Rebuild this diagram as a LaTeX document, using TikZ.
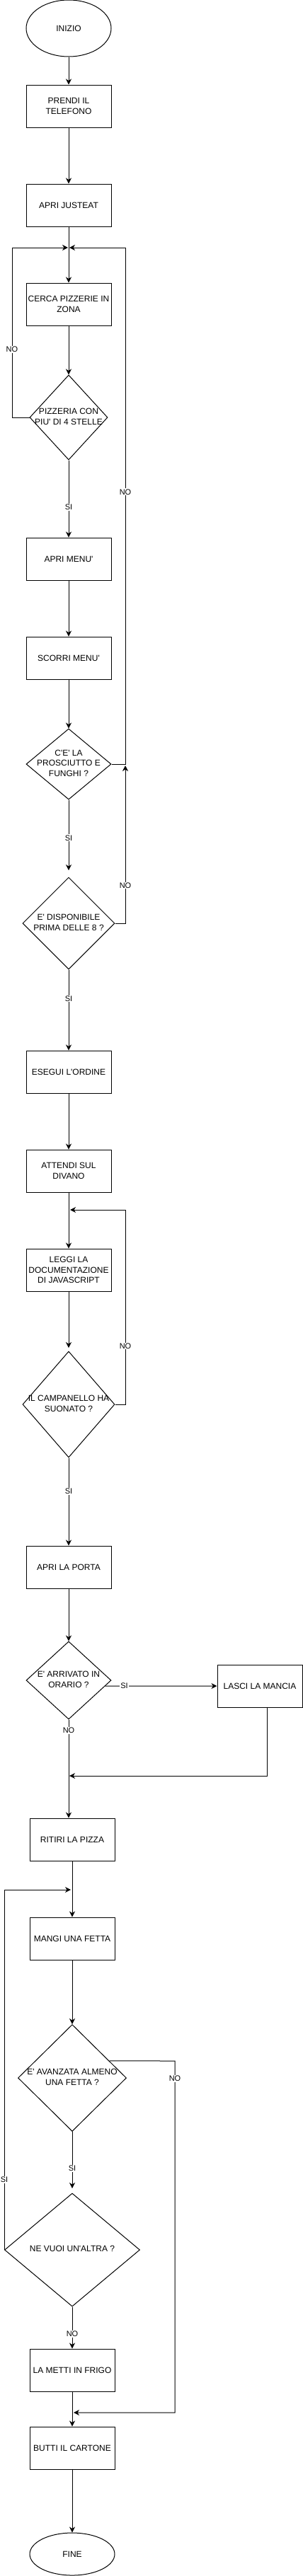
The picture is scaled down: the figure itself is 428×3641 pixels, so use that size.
\documentclass[tikz,border=0pt]{standalone}
\usepackage{fontspec}
\setmainfont{Liberation Sans}
\usetikzlibrary{shapes.geometric,arrows.meta,calc}
\newcommand{\myq}{\textquotesingle}
\newcommand{\dtxt}[1]{\smash{\makebox[0pt]{\raisebox{-3pt}{\begin{tabular}{@{}c@{}}#1\end{tabular}}}}}
\begin{document}
\begin{tikzpicture}[x=1pt,y=-1pt,
  line width=1pt,
  font=\fontsize{12}{14.5}\selectfont,
  box/.style={draw, rectangle, minimum width=120pt, minimum height=60pt, inner sep=0pt, align=center},
  term/.style={draw, ellipse, minimum width=120pt, inner sep=0pt},
  dec/.style={draw, diamond, inner sep=0pt, aspect=1},
  flow/.style={-{Stealth[length=8pt,width=8pt,inset=2.5pt]}},
  lbl/.style={fill=white, inner sep=1pt, font=\fontsize{11}{13}\selectfont}]
\fill[white] (0,0) rectangle (428,3641);
\useasboundingbox (0,0) rectangle (428,3641);

\node[term, minimum height=80pt] (start) at (97,40) {INIZIO};
\node[box] (tel) at (97,150) {PRENDI IL\\TELEFONO};
\node[box] (just) at (97,290) {APRI JUSTEAT};
\node[box] (cerca) at (97,430) {CERCA PIZZERIE IN\\ZONA};
\node[dec, minimum width=110pt, minimum height=120pt] (piz) at (97,590) {\dtxt{PIZZERIA CON\\PIU\myq{} DI 4 STELLE}};
\node[box] (menu) at (97,790) {APRI MENU\myq};
\node[box] (scorri) at (97,930) {SCORRI MENU\myq};
\node[dec, minimum width=120pt, minimum height=100pt] (pros) at (97,1080) {\dtxt{C\myq E\myq{} LA\\PROSCIUTTO E\\FUNGHI ?}};
\node[dec, minimum width=130pt, minimum height=130pt] (disp) at (97,1305) {\dtxt{E\myq{} DISPONIBILE\\PRIMA DELLE 8 ?}};
\node[box] (ord) at (97,1515) {ESEGUI L\myq ORDINE};
\node[box] (div) at (97,1655) {ATTENDI SUL\\DIVANO};
\node[box] (doc) at (97,1795) {LEGGI LA\\DOCUMENTAZIONE\\DI JAVASCRIPT};
\node[dec, minimum width=130pt, minimum height=150pt] (camp) at (97,1985) {\dtxt{IL CAMPANELLO HA\\SUONATO ?}};
\node[box] (porta) at (97,2215) {APRI LA PORTA};
\node[dec, minimum width=120pt, minimum height=110pt] (orario) at (97,2375) {\dtxt{E\myq{} ARRIVATO IN\\ORARIO ?}};
\node[box] (mancia) at (367,2383) {LASCI LA MANCIA};
\node[box] (rit) at (102,2600) {RITIRI LA PIZZA};
\node[box] (mangi) at (102,2740) {MANGI UNA FETTA};
\node[dec, minimum width=153pt, minimum height=151pt] (av) at (102,2937) {\dtxt{E\myq{} AVANZATA ALMENO\\UNA FETTA ?}};
\node[dec, minimum width=191pt, minimum height=160pt] (altra) at (102,3180) {\dtxt{NE VUOI UN\myq ALTRA ?}};
\node[box] (frigo) at (102,3350) {LA METTI IN FRIGO};
\node[box] (butti) at (102,3460) {BUTTI IL CARTONE};
\node[term, minimum height=60pt] (fine) at (102,3610) {FINE};

\coordinate (jA) at (96,350);
\coordinate (jB) at (98,350);
\coordinate (jC) at (97,1230);
\coordinate (jD) at (177,1082);
\coordinate (jE) at (99,1710);
\coordinate (jF) at (97,1905);
\coordinate (jG) at (98,2510);
\coordinate (jH) at (100,2671);
\coordinate (jI) at (102,3093);
\coordinate (jJ) at (104,3410);

\draw[flow] (start) -- (tel);
\draw[flow] (tel) -- (just);
\draw[flow] (just) -- (cerca);
\draw[flow] (cerca) -- (piz);
\draw[flow] (piz.south) -- node[lbl,pos=0.61]{SI} (menu);
\draw[flow] (piz.west) -- (17,590) -- node[lbl,pos=0.4]{NO} (17,350) -- (jA);
\draw[flow] (menu) -- (scorri);
\draw[flow] (scorri) -- (pros);
\draw[flow] (pros.east) -- (177,1080) -- node[lbl,pos=0.527]{NO} (177,350) -- (jB);
\draw[flow] (pros.south) -- node[lbl,pos=0.54]{SI} (jC);
\draw[flow] (disp.east) -- (177,1305) -- node[lbl,pos=0.24]{NO} (jD);
\draw[flow] (disp.south) -- node[lbl,pos=0.36]{SI} (ord);
\draw[flow] (ord) -- (div);
\draw[flow] (div) -- (doc);
\draw[flow] (doc) -- (jF);
\draw[flow] (camp.east) -- (177,1985) -- node[lbl,pos=0.3]{NO} (177,1710) -- (jE);
\draw[flow] (camp.south) -- node[lbl,pos=0.38]{SI} (porta);
\draw[flow] (porta) -- (orario);
\draw[flow] ($(orario.east)!0.145!(orario.south)$) -- node[lbl,pos=0.17]{SI} (mancia.west);
\draw[flow] (orario.south) -- node[lbl,pos=0.11]{NO} (orario.south |- rit.north);
\draw[flow] ($(mancia.south)+(10,0)$) -- (377,2510) -- (jG);
\draw[flow] (rit) -- (mangi);
\draw[flow] (mangi) -- (av);
\draw[flow] ($(av.east)!0.318!(av.north)$) -- (247,2913) -- node[lbl,pos=0.05]{NO} (247,3410) -- (jJ);
\draw[flow] (av.south) -- node[lbl,pos=0.65]{SI} (jI);
\draw[flow] (altra.west) -- node[lbl,pos=0.195]{SI} (altra.west |- jH) -- (jH);
\draw[flow] (altra.south) -- node[lbl,pos=0.65]{NO} (frigo);
\draw[flow] (frigo) -- (butti);
\draw[flow] (butti) -- (fine);
\end{tikzpicture}
\end{document}
